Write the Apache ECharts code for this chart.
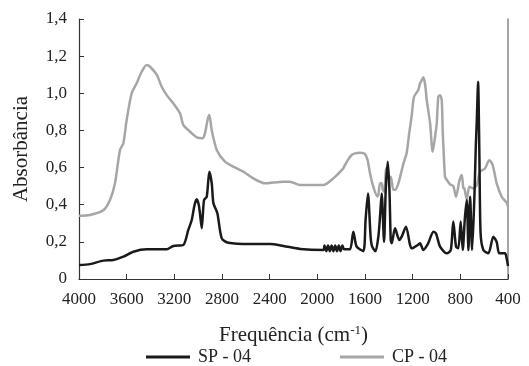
<!DOCTYPE html>
<html>
<head>
<meta charset="utf-8">
<script src="https://cdn.jsdelivr.net/npm/echarts@6/dist/echarts.min.js"></script>
<style>html,body{margin:0;padding:0;background:#fff}#c{width:529px;height:366px}</style>
</head>
<body>
<div id="c"></div>
<script>
// SP - 04 (black)
var spWn = [4000,3908,3796,3712,3628,3544,3432,3264,3209,3125,3083,3054,3030,3012,2995,2985,2970,2951,2928,2906,2886,2872,2839,2802,2746,2565,2397,2285,2145,1950,1940,1925,1910,1895,1880,1865,1850,1835,1820,1805,1790,1775,1726,1698,1670,1614,1595,1575,1553,1540,1512,1488,1474,1460,1440,1426,1409,1395,1384,1376,1348,1312,1292,1256,1222,1208,1153,1138,1111,1070,1026,1004,970,914,880,859,836,817,797,780,762,746,732,718,701,682,670,662,651,640,630,607,565,523,495,473,425,411,400];
var spAbs = [0.075,0.08,0.099,0.102,0.12,0.147,0.16,0.16,0.178,0.183,0.264,0.318,0.40,0.429,0.40,0.354,0.273,0.425,0.443,0.578,0.515,0.408,0.354,0.219,0.195,0.188,0.188,0.178,0.162,0.156,0.18,0.15,0.18,0.15,0.18,0.15,0.18,0.15,0.18,0.15,0.18,0.16,0.16,0.255,0.174,0.150,0.32,0.461,0.228,0.174,0.150,0.228,0.335,0.461,0.20,0.48,0.632,0.48,0.21,0.192,0.273,0.21,0.228,0.282,0.183,0.165,0.185,0.192,0.156,0.192,0.255,0.245,0.174,0.138,0.156,0.309,0.174,0.165,0.309,0.156,0.327,0.425,0.156,0.443,0.156,0.443,0.72,0.85,1.062,0.66,0.246,0.156,0.138,0.228,0.20,0.138,0.138,0.11,0.07];
// CP - 04 (gray)
var cpWn = [4000,3908,3796,3740,3698,3656,3628,3600,3558,3516,3474,3432,3404,3348,3306,3264,3209,3152,3125,3068,3012,2962,2943,2920,2906,2886,2844,2775,2705,2621,2537,2439,2285,2229,2145,2118,1950,1866,1782,1768,1712,1642,1600,1578,1558,1530,1497,1488,1474,1460,1451,1437,1424,1418,1404,1384,1362,1348,1320,1278,1250,1230,1208,1189,1153,1138,1130,1111,1096,1082,1054,1032,1012,998,985,970,956,948,929,920,887,859,836,808,788,775,766,746,724,690,662,635,593,557,529,495,453,411,400];
var cpAbs = [0.34,0.345,0.37,0.425,0.515,0.695,0.73,0.856,1.0,1.054,1.116,1.152,1.143,1.10,1.035,0.99,0.946,0.892,0.83,0.793,0.763,0.758,0.785,0.86,0.883,0.80,0.695,0.632,0.605,0.578,0.542,0.515,0.524,0.524,0.506,0.506,0.506,0.542,0.596,0.614,0.668,0.68,0.673,0.64,0.57,0.497,0.445,0.452,0.515,0.515,0.48,0.47,0.596,0.596,0.542,0.55,0.48,0.48,0.515,0.62,0.68,0.78,0.88,0.98,1.018,1.054,1.062,1.086,1.05,0.964,0.84,0.685,0.766,0.838,0.982,0.99,0.964,0.80,0.551,0.54,0.51,0.50,0.443,0.53,0.56,0.49,0.488,0.43,0.497,0.488,0.506,0.578,0.595,0.64,0.615,0.515,0.443,0.41,0.39];
var xTicks = [4000,3600,3200,2800,2400,2000,1600,1200,800,400];
var yTicks = ['0','0,2','0,4','0,6','0,8','1,0','1,2','1,4'];
var seriesNames = ['SP - 04','CP - 04'];

function pairs(a,b){return a.map(function(x,i){return [x,b[i]];});}
var font = 'Liberation Serif';
var chart = echarts.init(document.getElementById('c'));
chart.setOption({
  animation:false,
  grid:{left:79,right:21,top:19,bottom:87},
  legend:{
    bottom:0,left:146,padding:0,itemGap:89,itemWidth:44,itemHeight:3,icon:'rect',
    textStyle:{fontFamily:font,fontSize:18,color:'#222',padding:[0,0,0,3]},
    data:seriesNames
  },
  xAxis:{
    type:'value',inverse:true,min:400,max:4000,interval:400,
    name:'Frequência (cm{sup|-1})',nameLocation:'middle',nameGap:45,
    nameTextStyle:{fontFamily:font,fontSize:21,color:'#222',rich:{sup:{fontFamily:font,fontSize:13,color:'#222',verticalAlign:'top',padding:[0,0,9,0]}}},
    axisLine:{lineStyle:{color:'#333',width:1.2}},
    axisTick:{inside:true,length:5,lineStyle:{color:'#333'}},
    axisLabel:{fontFamily:font,fontSize:17,color:'#222',margin:12,
      formatter:function(v){return xTicks.indexOf(v)>=0?String(v):'';}},
    splitLine:{show:false}
  },
  yAxis:[{
    type:'value',min:0,max:1.4,interval:0.2,
    name:'Absorbância',nameLocation:'middle',nameGap:47,
    nameTextStyle:{fontFamily:font,fontSize:21,color:'#222'},
    axisLine:{show:true,lineStyle:{color:'#333',width:1.2}},
    axisTick:{show:true,inside:true,length:5,lineStyle:{color:'#333'}},
    axisLabel:{fontFamily:font,fontSize:17,color:'#222',margin:12,
      formatter:function(v){return yTicks[Math.round(v/0.2)];}},
    splitLine:{show:false}
  },{
    type:'value',min:0,max:1.4,position:'right',
    axisLine:{show:true,lineStyle:{color:'#888',width:1.5}},
    axisTick:{show:false},axisLabel:{show:false},splitLine:{show:false}
  }],
  series:[
    {name:seriesNames[0],type:'line',data:pairs(spWn,spAbs),symbol:'none',smooth:0.25,z:3,
     lineStyle:{color:'#1a1a1a',width:2.5},itemStyle:{color:'#1a1a1a'}},
    {name:seriesNames[1],type:'line',data:pairs(cpWn,cpAbs),symbol:'none',smooth:0.25,z:2,
     lineStyle:{color:'#a6a6a6',width:2.5},itemStyle:{color:'#a6a6a6'}}
  ]
});
</script>
</body>
</html>
